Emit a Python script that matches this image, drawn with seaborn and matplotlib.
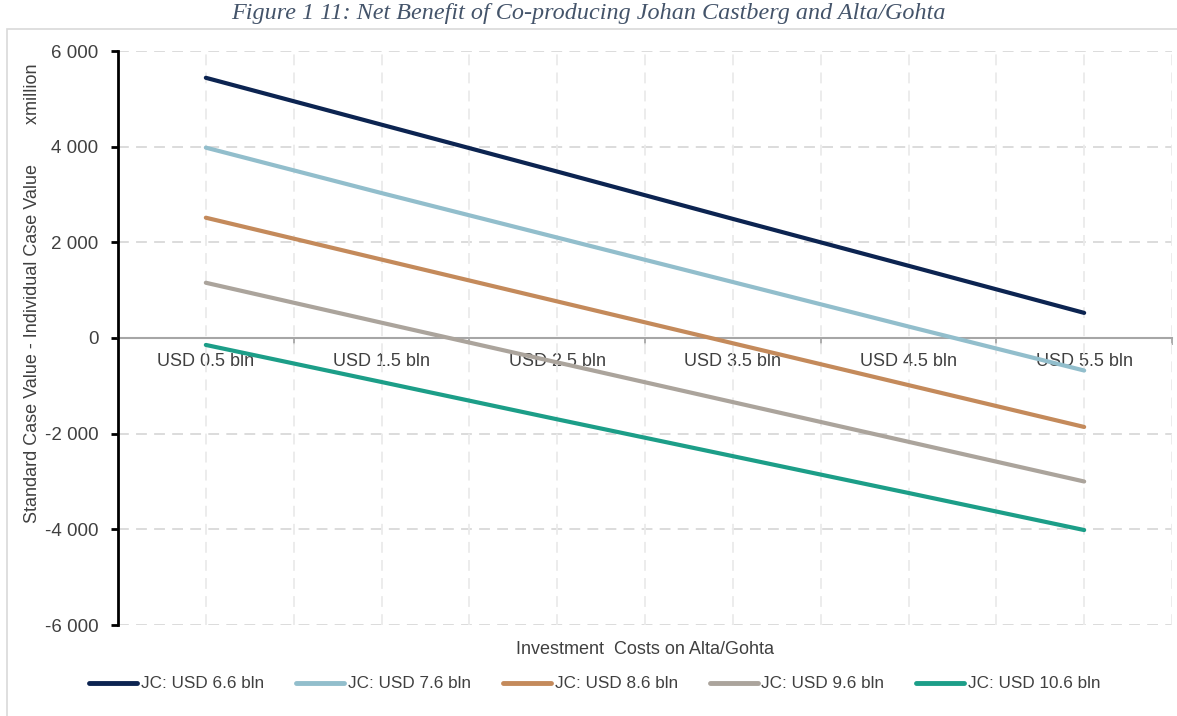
import matplotlib
matplotlib.use("Agg")
import matplotlib.pyplot as plt
import seaborn as sns
import pandas as pd
import numpy as np
from matplotlib.patches import Rectangle

# ---- data ----
categories = ["USD 0.5 bln", "USD 1.5 bln", "USD 2.5 bln", "USD 3.5 bln", "USD 4.5 bln", "USD 5.5 bln"]
series_names = ["JC: USD 6.6 bln", "JC: USD 7.6 bln", "JC: USD 8.6 bln", "JC: USD 9.6 bln", "JC: USD 10.6 bln"]
jc_66 = [5440, 4460, 3480, 2490, 1510, 525]
jc_76 = [3980, 3030, 2100, 1170, 240, -680]
jc_86 = [2515, 1640, 765, -110, -985, -1860]
jc_96 = [1155, 320, -510, -1340, -2170, -3000]
jc_106 = [-145, -920, -1700, -2470, -3240, -4015]
y_ticks = [-6000, -4000, -2000, 0, 2000, 4000, 6000]
y_tick_labels = ["-6 000", "-4 000", "-2 000", "0", "2 000", "4 000", "6 000"]

colors = ["#0C2451", "#92BECC", "#C48A5B", "#ABA49C", "#1C9E88"]

rows = []
for name, vals in zip(series_names, [jc_66, jc_76, jc_86, jc_96, jc_106]):
    for cat, v in zip(categories, vals):
        rows.append({"cat": cat, "series": name, "value": v})
df = pd.DataFrame(rows)
df["pos"] = df["cat"].map({c: i for i, c in enumerate(categories)})

sns.set_style("white")
plt.rcParams["font.family"] = ["Liberation Sans", "DejaVu Sans"]

fig = plt.figure(figsize=(11.77, 7.16), dpi=100)
ax = fig.add_axes([118/1177, 1-625/716, (1172-118)/1177, (625-51)/716])

sns.lineplot(data=df, x="pos", y="value", hue="series", hue_order=series_names,
             palette=colors, linewidth=3, ax=ax, legend=True, zorder=5)

ax.set_xlim(-0.5, 5.5)
ax.set_ylim(-6000, 6000)

# grid lines
for yv in y_ticks:
    if yv != 0:
        ax.axhline(yv, color="#D9D9D9", linewidth=1.3, linestyle=(0, (6, 4)), zorder=1)
for xv in np.arange(0, 5.51, 0.5):
    ax.axvline(xv, color="#EBEBEB", linewidth=1.3, linestyle=(0, (6, 4)), zorder=1)

# spines
for s in ["top", "right"]:
    ax.spines[s].set_visible(False)
ax.spines["left"].set_color("black")
ax.spines["left"].set_linewidth(2)
ax.spines["bottom"].set_position(("data", 0))
ax.spines["bottom"].set_color("#A6A6A6")
ax.spines["bottom"].set_linewidth(1.5)
ax.spines["bottom"].set_zorder(2)

ax.set_yticks(y_ticks)
ax.set_yticklabels(y_tick_labels)
ax.tick_params(axis="y", which="major", direction="out", length=5, width=2, color="black",
               labelsize=13.5, labelcolor="#404040", pad=9, left=True)

ax.set_xticks(np.arange(0.5, 5.51, 1.0))
ax.set_xticklabels([])
ax.tick_params(axis="x", which="major", direction="out", length=5, width=1.3, color="#A6A6A6", bottom=True)
ax.set_xticks(np.arange(0, 6), minor=True)
ax.set_xticklabels(categories, minor=True)
ax.tick_params(axis="x", which="minor", length=0, labelsize=13, labelcolor="#404040", pad=11)

ax.set_xlabel("")
ax.set_ylabel("")

fig.text((118+1172)/2/1177, 1-650/716, "Investment  Costs on Alta/Gohta", ha="center", va="center",
         fontsize=13, color="#404040")
fig.text(33/1177, 1-293/716, "Standard Case Value - Individual Case Value        xmillion",
         rotation=90, ha="center", va="center", fontsize=13, color="#404040")

ax.get_legend().remove()
handles, labels = ax.get_legend_handles_labels()
leg = fig.legend(handles, labels, loc="center", bbox_to_anchor=(595/1177, 1-684/716), ncol=5,
                 frameon=False, fontsize=12.3, handlelength=2.8, handletextpad=0.23, columnspacing=1.87,
                 labelcolor="#404040")
for line in leg.get_lines():
    line.set_linewidth(3.5)

# frame border
fig.patches.append(Rectangle((7/1177, -0.05), 1.1, 1-29/716+0.05, transform=fig.transFigure,
                             fill=False, edgecolor="#D9D9D9", linewidth=1.2, clip_on=False))

fig.text(588/1177, 1-13/716, "Figure 1 11: Net Benefit of Co-producing Johan Castberg and Alta/Gohta",
         ha="center", va="center", fontsize=17.4, style="italic", color="#44546A",
         family=["Liberation Serif", "DejaVu Serif"])

fig.savefig("out.png", dpi=100)
